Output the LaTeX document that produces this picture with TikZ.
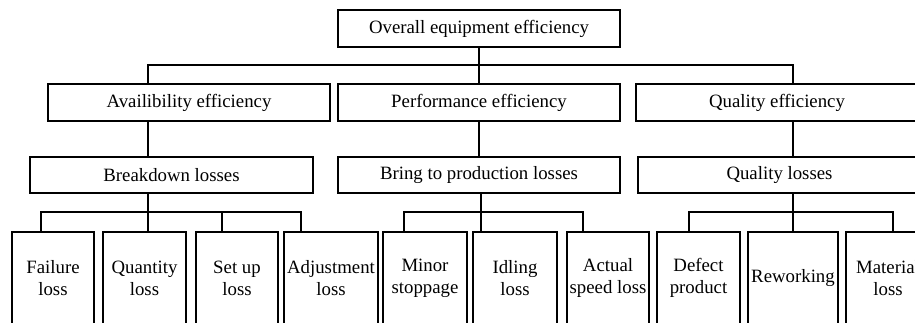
\documentclass[tikz,border=0pt]{standalone}
\usepackage{fontspec}
\setmainfont{Liberation Serif}
\begin{document}
\begin{tikzpicture}[x=1pt,y=-1pt,
  box/.style={draw,line width=1.6pt,inner sep=0pt,align=center,
    font=\fontsize{18.8}{22}\selectfont},
  lossbox/.style={box,minimum height=92pt},
  link/.style={line width=1.6pt}]
\useasboundingbox (0,0) rectangle (915,322);
\clip (0,0) rectangle (915,322);
% top of the tree
\node[box,minimum width=282pt,minimum height=37pt] (oee) at (479,28.5) {Overall equipment efficiency};
% second level
\node[box,minimum width=282pt,minimum height=37pt] (avail) at (189,102.5) {Availibility efficiency};
\node[box,minimum width=282pt,minimum height=37pt] (perf) at (479,102.5) {Performance efficiency};
\node[box,minimum width=282pt,minimum height=37pt] (qual) at (777,102.5) {Quality efficiency};
% third level
\node[box,minimum width=283pt,minimum height=36pt] (brk) at (171.5,175) {Breakdown losses};
\node[box,minimum width=282pt,minimum height=36pt] (bring) at (479,175) {Bring to production losses};
\node[box,minimum width=283pt,minimum height=36pt] (qloss) at (779.5,175) {Quality losses};
% the single losses, cut off at the bottom
\foreach \n/\x/\w/\t in {fail/53/82/{Failure\\loss}, qty/144.5/83/{Quantity\\loss},
    setup/237/82/{Set up\\loss}, adj/331/94/{Adjustment\\loss},
    minor/425/84/{Minor\\stoppage}, idle/515/84/{Idling\\loss},
    speed/608/82/{Actual\\speed loss}, defect/698.5/83/{Defect\\product},
    rework/793/90/{Reworking}, mat/888/84/{Material\\loss}}
  \node[lossbox,minimum width=\w pt] (\n) at (\x,278) {\t};
% where the lines branch
\coordinate (t1) at (148,65);
\coordinate (t2) at (793,65);
\foreach \n/\x in {a/41,b/148,c/222,d/301,e/404,f/481,g/583,h/689,i/793,j/893}
  \coordinate (x\n) at (\x,212);
% level 1 -> level 2
\draw[link] (oee.south) -- (oee.south |- t1);
\draw[link] (t1 |- avail.north) -- (t1) -- (t2) -- (t2 |- qual.north);
\draw[link] (perf.north) -- (perf.north |- t1);
% level 2 -> level 3
\draw[link] (t1 |- avail.south) -- (t1 |- brk.north);
\draw[link] (perf.south) -- (bring.north);
\draw[link] (t2 |- qual.south) -- (t2 |- qloss.north);
% level 3 -> level 4
\draw[link] (xb |- brk.south) -- (xb |- qty.north);
\draw[link] (xa |- fail.north) -- (xa) -- (xd) -- (xd |- adj.north);
\draw[link] (xc) -- (xc |- setup.north);
\draw[link] (xf |- bring.south) -- (xf |- idle.north);
\draw[link] (xe |- minor.north) -- (xe) -- (xg) -- (xg |- speed.north);
\draw[link] (xi |- qloss.south) -- (xi |- rework.north);
\draw[link] (xh |- defect.north) -- (xh) -- (xj) -- (xj |- mat.north);
\end{tikzpicture}
\end{document}
